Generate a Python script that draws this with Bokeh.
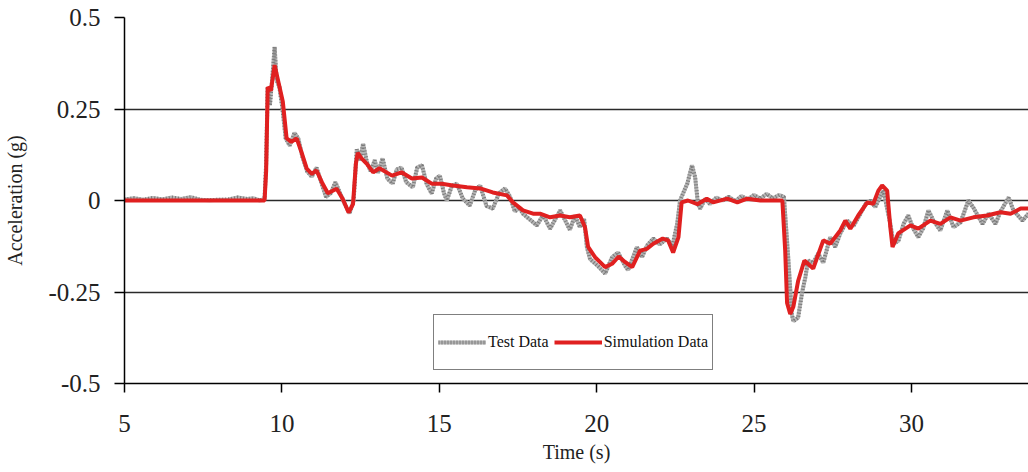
from bokeh.plotting import figure
from bokeh.models import Range1d, FixedTicker, Legend, LegendItem, Grid
from bokeh.embed import file_html
from bokeh.resources import INLINE

# Simulation data (time s, acceleration g)
t_sim = [5.0, 9.45, 9.5, 9.55, 9.65, 9.77, 9.9, 10.03, 10.15, 10.3, 10.47, 10.63, 10.79, 10.95,
         11.1, 11.27, 11.46, 11.74, 11.93, 12.12, 12.26, 12.35, 12.41, 12.53, 12.7, 12.9, 13.1,
         13.5, 13.8, 14.13, 14.45, 14.76, 15.08, 15.43, 15.88, 16.3, 16.7, 17.15, 17.34, 17.66,
         17.98, 18.2, 18.52, 18.84, 19.15, 19.47, 19.63, 19.73, 19.95, 20.27, 20.49, 20.7, 20.9,
         21.13, 21.38, 21.6, 21.8, 22.1, 22.27, 22.43, 22.6, 22.7, 22.9, 23.2, 23.5, 23.7, 24.15,
         24.47, 24.78, 25.2, 25.9, 25.99, 26.05, 26.15, 26.25, 26.4, 26.6, 26.88, 27.2, 27.42,
         27.74, 27.9, 28.06, 28.31, 28.6, 28.79, 28.95, 29.07, 29.23, 29.33, 29.4, 29.58, 29.97,
         30.22, 30.6, 30.92, 31.24, 31.56, 31.97, 32.4, 32.83, 33.15, 33.47, 33.72]
a_sim = [0.0, 0.0, 0.08, 0.31, 0.30, 0.37, 0.32, 0.27, 0.17, 0.16, 0.17, 0.13, 0.087, 0.073,
         0.082, 0.05, 0.02, 0.032, 0.005, -0.033, -0.01, 0.10, 0.13, 0.115, 0.10, 0.077, 0.088,
         0.068, 0.077, 0.06, 0.063, 0.046, 0.046, 0.041, 0.036, 0.033, 0.022, 0.014, -0.005, -0.027,
         -0.036, -0.036, -0.046, -0.041, -0.046, -0.041, -0.073, -0.127, -0.155, -0.182, -0.173, -0.153, -0.168,
         -0.182, -0.137, -0.132, -0.118, -0.104, -0.109, -0.142, -0.1, -0.005, 0.0, -0.01, 0.005, -0.005, 0.005,
         -0.005, 0.005, 0.0, 0.0, -0.137, -0.28, -0.31, -0.29, -0.22, -0.164, -0.186, -0.109, -0.118,
         -0.082, -0.055, -0.077, -0.041, -0.005, -0.009, 0.027, 0.041, 0.027, -0.073, -0.127, -0.09, -0.068,
         -0.077, -0.055, -0.064, -0.046, -0.055, -0.046, -0.041, -0.032, -0.036, -0.022, -0.022]

# Test data (time s, acceleration g)
t_test = [5.0, 5.3, 5.6, 5.9, 6.2, 6.5, 6.8, 7.1, 7.4, 7.7, 8.0, 8.3, 8.6, 8.9, 9.1, 9.3, 9.45,
          9.5, 9.55, 9.62, 9.7, 9.77, 9.83, 9.92, 10.02, 10.12, 10.25, 10.4, 10.52, 10.65, 10.8,
          10.95, 11.1, 11.25, 11.4, 11.55, 11.7, 11.85, 12.0, 12.15, 12.28, 12.38, 12.48, 12.58,
          12.7, 12.82, 12.95, 13.05, 13.2, 13.35, 13.52, 13.65, 13.8, 13.95, 14.16, 14.3, 14.45,
          14.6, 14.76, 14.9, 15.02, 15.15, 15.24, 15.4, 15.56, 15.75, 15.97, 16.15, 16.3, 16.5,
          16.7, 16.9, 17.09, 17.25, 17.4, 17.55, 17.66, 17.85, 18.1, 18.3, 18.52, 18.84, 19.15,
          19.31, 19.47, 19.6, 19.69, 19.79, 20.05, 20.27, 20.49, 20.68, 20.9, 21.0, 21.28, 21.44,
          21.6, 21.8, 22.0, 22.24, 22.4, 22.56, 22.65, 22.88, 23.03, 23.13, 23.22, 23.29, 23.45,
          23.6, 23.8, 24.0, 24.2, 24.4, 24.6, 24.8, 25.0, 25.2, 25.4, 25.6, 25.8, 25.95, 26.09,
          26.2, 26.25, 26.4, 26.53, 26.63, 26.72, 26.88, 27.04, 27.2, 27.42, 27.58, 27.74, 27.96,
          28.16, 28.38, 28.54, 28.7, 28.85, 28.95, 29.11, 29.33, 29.43, 29.59, 29.75, 29.9, 30.06,
          30.22, 30.38, 30.54, 30.7, 30.92, 31.14, 31.34, 31.56, 31.81, 31.97, 32.26, 32.45, 32.67,
          32.83, 33.09, 33.24, 33.53, 33.72]
a_test = [0.003, 0.006, 0.002, 0.007, 0.003, 0.008, 0.004, 0.009, 0.002, 0.001, 0.002, 0.003, 0.008,
          0.004, 0.006, 0.0, 0.005, 0.10, 0.31, 0.26, 0.34, 0.42, 0.33, 0.31, 0.25, 0.17, 0.15, 0.185,
          0.17, 0.12, 0.08, 0.065, 0.09, 0.05, 0.01, 0.02, 0.05, 0.02, -0.01, -0.035, 0.0, 0.14, 0.11,
          0.155, 0.105, 0.08, 0.11, 0.075, 0.115, 0.06, 0.046, 0.085, 0.09, 0.05, 0.036, 0.09, 0.096,
          0.045, 0.019, 0.06, 0.068, 0.02, 0.0, 0.04, 0.046, 0.005, -0.014, 0.03, 0.041, -0.015,
          -0.022, 0.02, 0.033, 0.01, -0.03, -0.02, -0.036, -0.05, -0.068, -0.04, -0.077, -0.027, -0.08,
          -0.041, -0.073, -0.05, -0.127, -0.16, -0.18, -0.2, -0.155, -0.142, -0.178, -0.19, -0.127, -0.155,
          -0.123, -0.104, -0.12, -0.104, -0.127, -0.063, 0.0, 0.046, 0.096, 0.063, -0.01, -0.022, 0.005,
          -0.01, 0.008, 0.0, 0.01, -0.002, 0.012, 0.003, 0.015, 0.005, 0.018, 0.006, 0.015, 0.01, -0.16,
          -0.31, -0.33, -0.32, -0.25, -0.21, -0.164, -0.17, -0.145, -0.17, -0.1, -0.127, -0.09, -0.055,
          -0.07, -0.036, -0.01, 0.0, -0.018, 0.0, 0.027, -0.064, -0.118, -0.11, -0.064, -0.041, -0.077,
          -0.1, -0.075, -0.027, -0.055, -0.082, -0.027, -0.073, -0.06, 0.0, -0.02, -0.064, -0.036, -0.064,
          -0.03, 0.008, -0.027, -0.055, -0.036]

y_ticks = [-0.5, -0.25, 0, 0.25, 0.5]
y_tick_labels = ["-0.5", "-0.25", "0", "0.25", "0.5"]
x_ticks = [5, 10, 15, 20, 25, 30]

SERIF = "'Liberation Serif', 'Times New Roman', serif"

p = figure(width=1028, height=472, output_backend="svg", toolbar_location=None,
           x_range=Range1d(5, 33.72), y_range=Range1d(-0.5, 0.5),
           min_border_left=124, min_border_right=0, min_border_top=17, min_border_bottom=89)
p.outline_line_color = None
p.background_fill_color = "white"
p.xgrid.visible = False
p.ygrid.visible = False

g = Grid(dimension=1, ticker=FixedTicker(ticks=[-0.25, 0, 0.25, 0.5]),
         grid_line_color="#2a2a2a", grid_line_width=1.5)
p.add_layout(g)

r_test_bg = p.line(t_test, a_test, line_color="#b5b5b5", line_width=4)
r_test = p.line(t_test, a_test, line_color="#7a7a7a", line_width=4, line_dash="1 2")
r_sim = p.line(t_sim, a_sim, line_color="#e02020", line_width=4)

# axes
p.yaxis.ticker = FixedTicker(ticks=y_ticks)
p.yaxis.major_label_overrides = {v: l for v, l in zip(y_ticks, y_tick_labels)}
p.xaxis.ticker = FixedTicker(ticks=x_ticks)
for ax in (p.xaxis[0], p.yaxis[0]):
    ax.axis_line_color = "black"
    ax.axis_line_width = 1.5
    ax.major_tick_line_color = "black"
    ax.major_tick_line_width = 1.5
    ax.major_tick_in = 0
    ax.minor_tick_line_color = None
    ax.major_label_text_font = SERIF
    ax.major_label_text_font_size = "25px"
    ax.major_label_text_color = "#222222"
    ax.axis_label_text_font = SERIF
    ax.axis_label_text_font_style = "normal"
    ax.axis_label_text_font_size = "20px"
    ax.axis_label_text_color = "#222222"
p.yaxis.major_tick_out = 10
p.yaxis.major_label_standoff = 14
p.yaxis.axis_label = "Acceleration (g)"
p.yaxis.axis_label_standoff = 19
p.xaxis.major_tick_out = 9
p.xaxis.major_label_standoff = 22
p.xaxis.axis_label = "Time (s)"
p.xaxis.axis_label_standoff = 6

legend = Legend(items=[LegendItem(label="Test Data", renderers=[r_test_bg, r_test]),
                       LegendItem(label="Simulation Data", renderers=[r_sim])],
                orientation="horizontal", location=(309, 13),
                glyph_width=48, glyph_height=46, label_height=46, label_standoff=2,
                spacing=5, padding=4, margin=0,
                label_text_font=SERIF, label_text_font_size="16px", label_text_color="#111111",
                border_line_color="black", border_line_width=1.2,
                background_fill_color="white", background_fill_alpha=1.0)
p.add_layout(legend, "center")

open("out.html", "w").write(file_html(p, INLINE))
